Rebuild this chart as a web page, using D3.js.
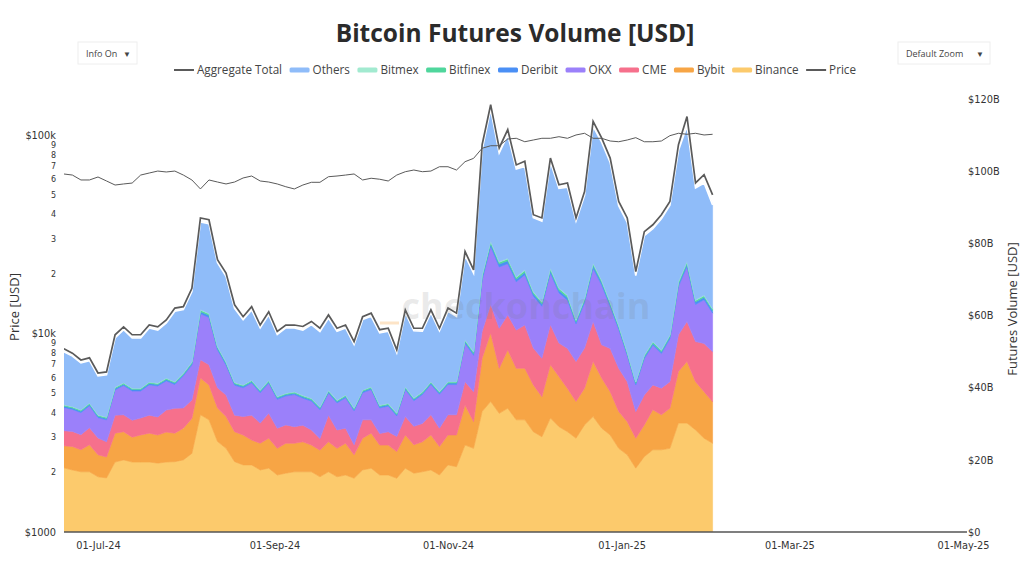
<!DOCTYPE html>
<html>
<head>
<meta charset="utf-8">
<script src="https://cdn.jsdelivr.net/npm/d3@7"></script>
<style>
	body { margin: 0; background: #fff; }
	svg { display: block; }
</style>
</head>
<body>
<svg id="chart" width="1024" height="580"></svg>
<script>
// one reading every 3 days, starting 19-Jun-24
var startDate = new Date(2024, 5, 19);
var stepDays = 3;

// volumes in billions of USD
var binance = [17.8, 17.2, 16.7, 16.7, 15.3, 15.0, 19.4, 20.0, 19.4, 19.4,
	19.4, 19.1, 19.4, 19.5, 20.0, 21.8, 32.5, 31.1, 25.1, 23.2,
	19.5, 18.6, 18.6, 17.2, 17.7, 15.8, 16.3, 16.7, 16.7, 16.7,
	15.3, 16.7, 15.3, 15.8, 14.9, 17.2, 17.7, 15.8, 15.8, 14.9,
	17.7, 16.3, 16.7, 17.2, 15.8, 18.6, 18.1, 24.1, 23.2, 33.4,
	36.2, 32.9, 34.3, 31.1, 31.1, 27.8, 26.4, 31.6, 29.2, 27.8,
	26.0, 29.7, 32.0, 28.8, 26.9, 23.2, 21.4, 17.7, 20.9, 22.8,
	22.8, 23.2, 30.2, 30.2, 28.3, 26.0, 24.6];
var bybit = [6.1, 6.5, 6.1, 7.5, 6.1, 5.8, 8.0, 7.8, 6.9, 7.5,
	8.0, 7.8, 8.3, 7.9, 8.8, 9.7, 10.2, 9.7, 9.3, 8.8,
	8.3, 8.3, 6.9, 7.4, 8.3, 7.4, 8.3, 7.9, 8.3, 7.4,
	7.4, 8.3, 7.9, 8.8, 6.5, 8.8, 9.7, 8.3, 8.3, 7.4,
	9.2, 7.9, 8.3, 9.7, 7.9, 8.3, 8.8, 11.1, 7.4, 14.8,
	19.0, 12.5, 16.2, 14.3, 14.3, 13.0, 11.1, 14.8, 13.9, 12.0,
	10.2, 10.2, 15.3, 13.9, 12.0, 10.2, 9.2, 8.3, 8.8, 11.1,
	9.7, 11.1, 14.3, 17.1, 13.4, 12.9, 11.5];
var cme = [4.2, 4.2, 4.2, 4.7, 4.7, 4.2, 5.0, 4.7, 4.7, 4.7,
	5.0, 5.0, 6.1, 6.9, 5.6, 5.1, 5.1, 5.6, 5.6, 6.0,
	4.6, 5.1, 6.9, 5.6, 6.9, 5.6, 5.1, 4.6, 4.6, 4.2,
	3.2, 7.4, 5.1, 4.2, 2.8, 5.1, 3.7, 3.2, 3.7, 4.2,
	5.1, 5.1, 5.1, 5.6, 5.1, 5.6, 5.6, 6.5, 8.3, 7.4,
	7.9, 11.1, 9.7, 10.6, 12.0, 10.2, 10.7, 11.1, 9.3, 11.1,
	11.1, 11.1, 11.1, 9.2, 12.0, 12.0, 11.1, 7.4, 8.3, 6.9,
	7.4, 7.4, 10.2, 11.1, 11.1, 13.4, 13.9];
var okx = [6.4, 6.1, 6.1, 6.1, 5.6, 6.1, 7.0, 8.1, 8.1, 7.5,
	8.4, 8.6, 8.1, 6.6, 8.9, 9.7, 12.7, 13.1, 10.5, 8.3,
	8.3, 8.0, 8.9, 8.4, 8.4, 8.0, 8.0, 8.9, 7.5, 8.0,
	8.0, 6.1, 7.5, 8.4, 9.4, 7.5, 8.4, 7.1, 7.1, 5.7,
	7.5, 7.1, 8.0, 8.4, 9.4, 8.4, 8.4, 10.6, 10.1, 14.3,
	16.1, 17.0, 14.2, 13.4, 13.9, 14.4, 14.4, 14.3, 13.9, 13.4,
	10.4, 12.6, 14.7, 16.6, 11.6, 10.8, 7.3, 7.4, 10.1, 11.0,
	9.6, 11.9, 13.4, 15.2, 10.3, 12.1, 10.7];
var deribit = [0.4, 0.4, 0.4, 0.4, 0.4, 0.4, 0.4, 0.4, 0.4, 0.4,
	0.4, 0.4, 0.4, 0.4, 0.4, 0.5, 0.6, 0.6, 0.5, 0.5,
	0.4, 0.4, 0.4, 0.4, 0.4, 0.4, 0.4, 0.4, 0.4, 0.4,
	0.4, 0.4, 0.4, 0.4, 0.4, 0.4, 0.4, 0.4, 0.4, 0.4,
	0.4, 0.4, 0.4, 0.4, 0.4, 0.4, 0.4, 0.5, 0.5, 0.7,
	0.8, 0.8, 0.8, 0.7, 0.7, 0.7, 0.7, 0.7, 0.7, 0.7,
	0.6, 0.7, 0.8, 0.7, 0.7, 0.6, 0.5, 0.5, 0.5, 0.5,
	0.5, 0.6, 0.7, 0.8, 0.7, 0.7, 0.7];
var bitfinex = [0.3, 0.3, 0.3, 0.3, 0.3, 0.3, 0.3, 0.3, 0.3, 0.3,
	0.3, 0.3, 0.3, 0.3, 0.3, 0.3, 0.4, 0.4, 0.4, 0.3,
	0.3, 0.3, 0.3, 0.3, 0.3, 0.3, 0.3, 0.3, 0.3, 0.3,
	0.3, 0.3, 0.3, 0.3, 0.3, 0.3, 0.3, 0.3, 0.3, 0.3,
	0.3, 0.3, 0.3, 0.3, 0.3, 0.3, 0.3, 0.4, 0.4, 0.5,
	0.5, 0.5, 0.5, 0.5, 0.5, 0.4, 0.4, 0.5, 0.5, 0.5,
	0.4, 0.4, 0.5, 0.5, 0.4, 0.4, 0.4, 0.3, 0.4, 0.4,
	0.4, 0.4, 0.5, 0.5, 0.4, 0.4, 0.4];
var bitmex = [0.1, 0.1, 0.1, 0.1, 0.1, 0.1, 0.1, 0.1, 0.1, 0.1,
	0.1, 0.1, 0.1, 0.1, 0.1, 0.1, 0.2, 0.2, 0.1, 0.1,
	0.1, 0.1, 0.1, 0.1, 0.1, 0.1, 0.1, 0.1, 0.1, 0.1,
	0.1, 0.1, 0.1, 0.1, 0.1, 0.1, 0.1, 0.1, 0.1, 0.1,
	0.1, 0.1, 0.1, 0.1, 0.1, 0.1, 0.1, 0.1, 0.1, 0.2,
	0.2, 0.2, 0.2, 0.2, 0.2, 0.2, 0.2, 0.2, 0.2, 0.2,
	0.2, 0.2, 0.2, 0.2, 0.2, 0.2, 0.1, 0.1, 0.1, 0.1,
	0.1, 0.1, 0.2, 0.2, 0.2, 0.2, 0.2];
var others = [14.7, 14.0, 13.0, 11.7, 10.8, 11.7, 13.6, 14.7, 13.9, 13.9,
	15.0, 14.7, 15.3, 19.5, 17.6, 19.5, 24.3, 24.8, 23.2, 23.7,
	20.5, 18.1, 19.5, 17.2, 18.1, 17.2, 18.1, 17.7, 18.1, 20.4,
	20.9, 20.0, 19.1, 18.6, 17.6, 19.5, 19.5, 20.0, 20.0, 16.7,
	20.5, 18.6, 16.8, 19.1, 16.8, 19.5, 18.1, 23.4, 21.8, 34.7,
	36.5, 30.1, 34.2, 29.9, 28.7, 20.5, 22.3, 29.4, 27.6, 29.9,
	27.4, 28.5, 37.9, 38.2, 38.7, 33.1, 35.9, 29.4, 33.1, 31.3,
	36.4, 35.9, 36.3, 37.5, 31.0, 31.1, 28.7];
var aggregateTotal = [50.8, 49.6, 47.7, 48.3, 44.1, 44.4, 54.7, 56.9, 54.7, 54.7,
	57.4, 56.9, 58.8, 62.1, 62.5, 67.6, 87.1, 86.6, 75.5, 71.8,
	63.0, 59.7, 62.5, 57.4, 61.1, 55.6, 57.4, 57.4, 57.0, 58.4,
	56.5, 60.2, 56.5, 57.4, 52.8, 59.7, 60.7, 56.1, 56.5, 50.5,
	61.6, 56.5, 56.5, 61.6, 56.5, 62.1, 60.7, 77.8, 72.7, 107.4,
	118.5, 106.5, 111.6, 101.8, 102.8, 88.0, 87.1, 103.7, 96.3, 96.8,
	87.1, 94.4, 113.9, 109.3, 103.7, 91.7, 87.1, 72.2, 83.3, 85.2,
	88.0, 91.7, 107.4, 115.2, 96.8, 99.1, 93.5];
// BTC price in USD
var price = [63900, 63100, 59600, 59600, 61700, 58900, 56200, 56900, 57500, 63100,
	64600, 66100, 65400, 66100, 63100, 59600, 53700, 59600, 58200, 56900,
	58200, 61000, 62400, 58900, 58200, 56900, 55100, 53700, 56200, 58000,
	58000, 61900, 62400, 63100, 63900, 59600, 60800, 60100, 58900, 63100,
	65600, 66900, 65600, 66100, 69500, 69500, 66900, 73700, 76600, 86100,
	88700, 88700, 95900, 96700, 92900, 94800, 96700, 96700, 98500, 96700,
	100500, 102500, 96700, 96700, 93700, 92900, 94800, 97400, 92900, 92900,
	93700, 99700, 102500, 101300, 102500, 100500, 101300];

var seriesNames = ["Binance", "Bybit", "CME", "OKX", "Deribit", "Bitfinex", "Bitmex", "Others"];
var seriesColors = ["#fcca6c", "#f7a545", "#f6708c", "#9b80fa", "#4a8ff5", "#4fd69c", "#a2ead0", "#8fbcf9"];
var legendNames = ["Aggregate Total", "Others", "Bitmex", "Bitfinex", "Deribit", "OKX", "CME", "Bybit", "Binance", "Price"];

var dateTicks = [new Date(2024, 6, 1), new Date(2024, 8, 1), new Date(2024, 10, 1),
	new Date(2025, 0, 1), new Date(2025, 2, 1), new Date(2025, 4, 1)];
var volumeTicks = [0, 20, 40, 60, 80, 100, 120];
var volumeTickLabels = ["$0", "$20B", "$40B", "$60B", "$80B", "$100B", "$120B"];
var priceTicks = [1000, 2000, 3000, 4000, 5000, 6000, 7000, 8000, 9000,
	10000, 20000, 30000, 40000, 50000, 60000, 70000, 80000, 90000, 100000];
var priceTickLabels = ["$1000", "2", "3", "4", "5", "6", "7", "8", "9",
	"$10k", "2", "3", "4", "5", "6", "7", "8", "9", "$100k"];

var svg = d3.select("#chart");
var plotLeft = 64, plotRight = 967, plotBottom = 532;
var tickFont = "DejaVu Sans, Verdana, sans-serif";
var textFont = "Open Sans, sans-serif";

var xScale = d3.scaleTime().domain([new Date(2024, 6, 1), new Date(2025, 4, 1)]).range([98, 963]);
var yVolume = d3.scaleLinear().domain([0, 120]).range([532, 99.3]);
var yPrice = d3.scaleLog().domain([1000, 100000]).range([532, 135.4]);

var rows = [];
for (var i = 0; i < binance.length; i++) {
	rows.push({
		date : d3.timeDay.offset(startDate, i * stepDays),
		Binance : binance[i],
		Bybit : bybit[i],
		CME : cme[i],
		OKX : okx[i],
		Deribit : deribit[i],
		Bitfinex : bitfinex[i],
		Bitmex : bitmex[i],
		Others : others[i],
		aggregate : aggregateTotal[i],
		price : price[i]
	});
}

svg.append("defs").append("clipPath").attr("id", "plotClip")//
.append("rect").attr("x", plotLeft).attr("y", 60).attr("width", plotRight - plotLeft).attr("height", plotBottom - 60);

var plot = svg.append("g").attr("clip-path", "url(#plotClip)");

var stacked = d3.stack().keys(seriesNames)(rows);
var area = d3.area()//
.x(function(d) { return xScale(d.data.date); })//
.y0(function(d) { return yVolume(d[0]); })//
.y1(function(d) { return yVolume(d[1]); });

plot.selectAll(".layer").data(stacked).enter().append("path")//
.attr("class", "layer")//
.attr("d", area)//
.style("fill", function(d, index) { return seriesColors[index]; })//
.style("stroke", function(d, index) { return seriesColors[index]; })//
.style("stroke-width", 0.6);

// white edge along the top of Others
plot.append("path")//
.datum(stacked[stacked.length - 1])//
.attr("d", d3.line().x(function(d) { return xScale(d.data.date); }).y(function(d) { return yVolume(d[1]); }))//
.style("fill", "none").style("stroke", "#fff").style("stroke-width", 1.6);

// watermark
svg.append("text").attr("x", 526).attr("y", 319).attr("text-anchor", "middle")//
.style("font-family", textFont).style("font-weight", "bold").style("font-size", "36px")//
.style("fill", "#7a7a7a").style("fill-opacity", 0.17).text("checkonchain");
svg.append("line").attr("x1", 380).attr("x2", 399).attr("y1", 323).attr("y2", 323)//
.style("stroke", "#f7a545").style("stroke-opacity", 0.3).style("stroke-width", 3);

plot.append("path").datum(rows)//
.attr("d", d3.line().x(function(d) { return xScale(d.date); }).y(function(d) { return yVolume(d.aggregate); }))//
.style("fill", "none").style("stroke", "#5a5a5a").style("stroke-width", 1.7);

plot.append("path").datum(rows)//
.attr("d", d3.line().x(function(d) { return xScale(d.date); }).y(function(d) { return yPrice(d.price); }))//
.style("fill", "none").style("stroke", "#5a5a5a").style("stroke-width", 1);

// axes
svg.append("line").attr("x1", plotLeft).attr("x2", plotRight).attr("y1", plotBottom).attr("y2", plotBottom)//
.style("stroke", "#555").style("stroke-width", 1.5);

var xAxis = svg.append("g").attr("transform", "translate(0," + plotBottom + ")")//
.call(d3.axisBottom(xScale).tickValues(dateTicks).tickFormat(d3.timeFormat("%d-%b-%y")).tickSize(0).tickPadding(10));
var yRight = svg.append("g").attr("transform", "translate(" + (plotRight + 1) + ",0)")//
.call(d3.axisRight(yVolume).tickValues(volumeTicks).tickFormat(function(d, index) { return volumeTickLabels[index]; }).tickSize(0).tickPadding(0));
var yLeft = svg.append("g").attr("transform", "translate(56,0)")//
.call(d3.axisLeft(yPrice).tickValues(priceTicks).tickFormat(function(d, index) { return priceTickLabels[index]; }).tickSize(0).tickPadding(0));

[xAxis, yRight, yLeft].forEach(function(g) {
	g.select(".domain").remove();
	g.selectAll("text").style("font-family", tickFont).style("font-size", "9.8px").style("fill", "#333");
});
yLeft.selectAll("text").filter(function(d, index) { return priceTickLabels[index].charAt(0) != "$"; })//
.style("font-size", "8px");

svg.append("text").attr("transform", "translate(19,307) rotate(-90)").attr("text-anchor", "middle")//
.style("font-family", textFont).style("font-size", "13px").style("fill", "#333").text("Price [USD]");
svg.append("text").attr("transform", "translate(1017,309) rotate(-90)").attr("text-anchor", "middle")//
.style("font-family", textFont).style("font-size", "13px").style("fill", "#333").text("Futures Volume [USD]");

// title
svg.append("text").attr("x", 515).attr("y", 42).attr("text-anchor", "middle")//
.style("font-family", textFont).style("font-weight", "bold").style("font-size", "24.5px").style("fill", "#2b2b2b")//
.text("Bitcoin Futures Volume [USD]");

// dropdown buttons
function addButton(x, w, label) {
	var g = svg.append("g").attr("transform", "translate(" + x + ",42)");
	g.append("rect").attr("width", w).attr("height", 22).style("fill", "#fff").style("stroke", "#eee");
	g.append("text").attr("x", 8).attr("y", 14.5).style("font-family", textFont).style("font-size", "9px").style("fill", "#444").text(label);
	g.append("text").attr("x", w - 10).attr("y", 14.5).attr("text-anchor", "middle").style("font-size", "8px").style("fill", "#444").text("\u25BC");
}
addButton(78, 59, "Info On");
addButton(898, 92, "Default Zoom");

// legend
var legend = svg.append("g");
var legendX = 0;
legendNames.forEach(function(name) {
	var item = legend.append("g").attr("transform", "translate(" + legendX + ",0)");
	var seriesIndex = seriesNames.indexOf(name);
	if (seriesIndex < 0) {
		item.append("line").attr("x1", 0).attr("x2", 20).attr("y1", 0).attr("y2", 0)//
		.style("stroke", "#5a5a5a").style("stroke-width", 2);
	} else {
		item.append("rect").attr("x", 0).attr("y", -2.5).attr("width", 20).attr("height", 5).attr("rx", 1.5)//
		.style("fill", seriesColors[seriesIndex]);
	}
	var label = item.append("text").attr("x", 23).attr("y", 4.3)//
	.style("font-family", textFont).style("font-size", "11.7px").style("fill", "#444").text(name);
	legendX += 23 + label.node().getComputedTextLength() + 7.5;
});
legend.attr("transform", "translate(" + (515 - (legendX - 7.5) / 2) + ",70)");
</script>
</body>
</html>
